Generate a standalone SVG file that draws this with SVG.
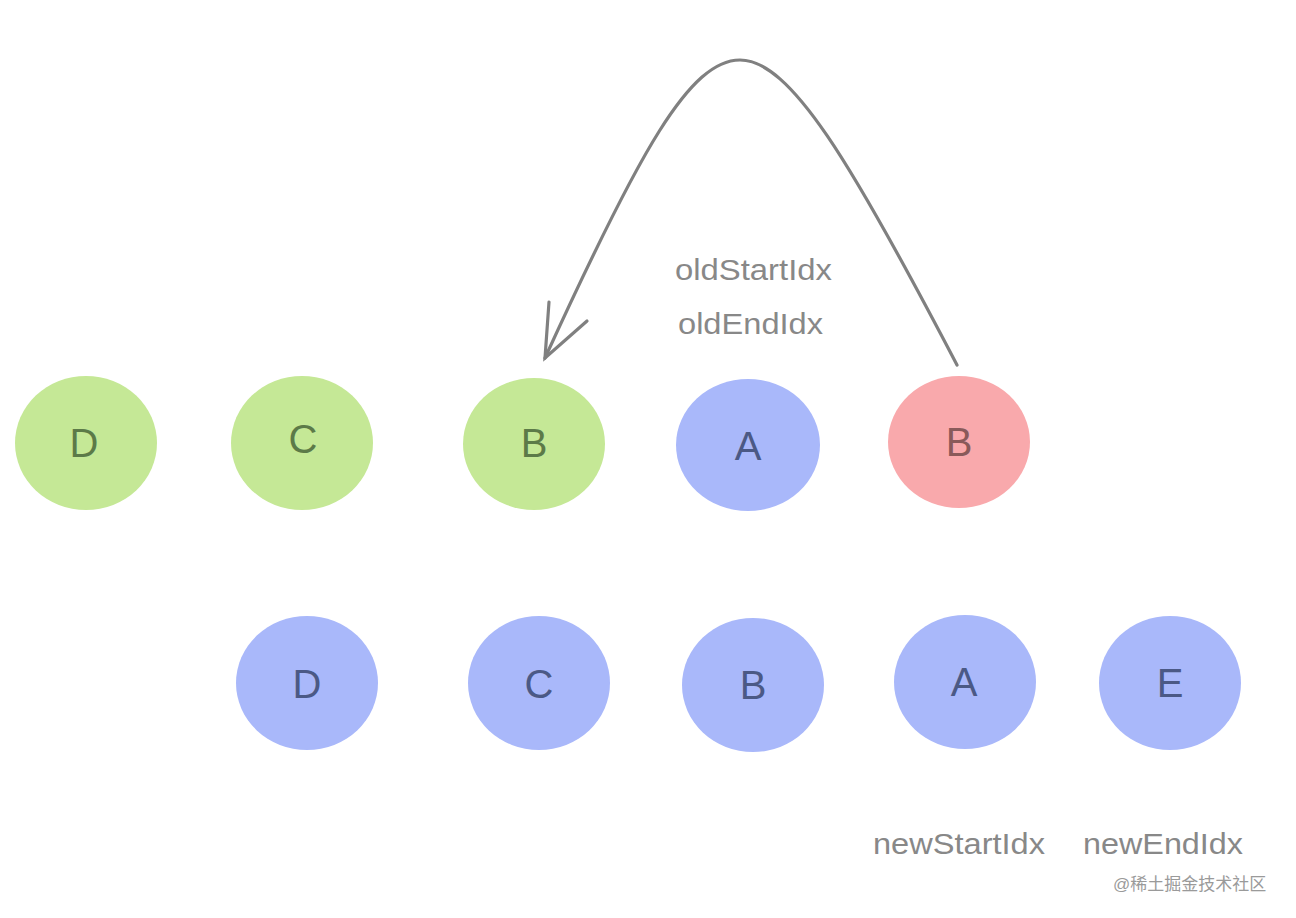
<svg xmlns="http://www.w3.org/2000/svg" width="1296" height="918" viewBox="0 0 1296 918">
<style>
.g{fill:#c5e896}
.b{fill:#a9b8fa}
.r{fill:#f9a9ac}
.t{font-family:"Liberation Sans",Arial,sans-serif;font-size:40px;text-anchor:middle}
.tg{fill:#5c7a48}
.tb{fill:#4b5985}
.tr{fill:#8a5a5a}
.lbl{font-family:"Liberation Sans",Arial,sans-serif;font-size:30px;fill:#888888}
.wm{font-family:"Liberation Sans","Noto Sans CJK SC",sans-serif;font-size:17px;fill:#9a9a9a}
.conn{fill:none;stroke:#808080;stroke-width:3.2;stroke-linecap:round}
</style>
<rect width="1296" height="918" fill="#ffffff"/>
<g id="old-D"><ellipse class="g" cx="86" cy="443" rx="71" ry="67"/><text class="t tg" x="84" y="457">D</text></g>
<g id="old-C"><ellipse class="g" cx="302" cy="443" rx="71" ry="67"/><text class="t tg" x="303" y="453">C</text></g>
<g id="old-B"><ellipse class="g" cx="534" cy="444" rx="71" ry="66"/><text class="t tg" x="534" y="457">B</text></g>
<g id="old-A"><ellipse class="b" cx="748" cy="445" rx="72" ry="66"/><text class="t tb" x="748" y="460">A</text></g>
<g id="old-B2"><ellipse class="r" cx="959" cy="442" rx="71" ry="66"/><text class="t tr" x="959" y="456">B</text></g>
<g id="new-D"><ellipse class="b" cx="307" cy="683" rx="71" ry="67"/><text class="t tb" x="307" y="698">D</text></g>
<g id="new-C"><ellipse class="b" cx="539" cy="683" rx="71" ry="67"/><text class="t tb" x="539" y="698">C</text></g>
<g id="new-B"><ellipse class="b" cx="753" cy="685" rx="71" ry="67"/><text class="t tb" x="753" y="699">B</text></g>
<g id="new-A"><ellipse class="b" cx="965" cy="682" rx="71" ry="67"/><text class="t tb" x="964" y="696">A</text></g>
<g id="new-E"><ellipse class="b" cx="1170" cy="683" rx="71" ry="67"/><text class="t tb" x="1170" y="697">E</text></g>
<g id="connectors">
<path class="conn" d="M957,365 C850,160 790,60 740,60 C690,60 640,150 545,358"/>
<path class="conn" d="M549,302 L545,358 L587,321"/>
</g>
<g id="labels">
<text class="lbl" x="675" y="280" textLength="157" lengthAdjust="spacingAndGlyphs">oldStartIdx</text>
<text class="lbl" x="678" y="334" textLength="145" lengthAdjust="spacingAndGlyphs">oldEndIdx</text>
<text class="lbl" x="873" y="854" textLength="172" lengthAdjust="spacingAndGlyphs">newStartIdx</text>
<text class="lbl" x="1083" y="854" textLength="160" lengthAdjust="spacingAndGlyphs">newEndIdx</text>
<text class="wm" x="1113" y="890">@稀土掘金技术社区</text>
</g>
</svg>
